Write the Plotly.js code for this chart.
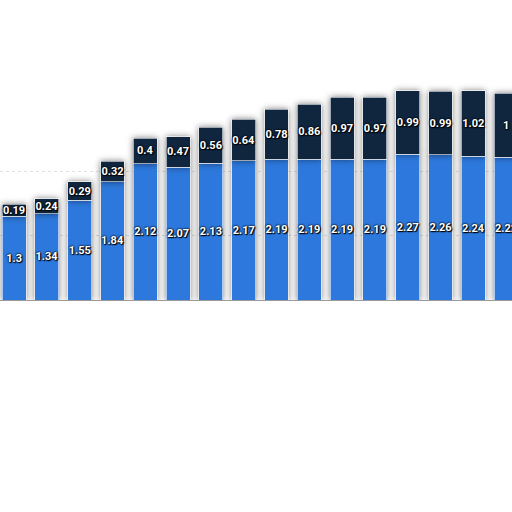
<!DOCTYPE html>
<html>
<head>
<meta charset="utf-8">
<script src="https://cdn.plot.ly/plotly-3.0.1.min.js"></script>
<style>
  body { margin: 0; background: #fff; }
  #chart { width: 512px; height: 512px; }
  .trace.bars .point path { filter: drop-shadow(0 0 3px rgba(0,0,0,0.5)); }
</style>
</head>
<body>
<div id="chart"></div>
<script>
// categories are not shown in the picture, so plain labels are used
var categories = ['1', '2', '3', '4', '5', '6', '7', '8', '9', '10', '11', '12', '13', '14', '15', '16'];
var lowerValues = [1.3, 1.34, 1.55, 1.84, 2.12, 2.07, 2.13, 2.17, 2.19, 2.19, 2.19, 2.19, 2.27, 2.26, 2.24, 2.22];
var upperValues = [0.19, 0.24, 0.29, 0.32, 0.4, 0.47, 0.56, 0.64, 0.78, 0.86, 0.97, 0.97, 0.99, 0.99, 1.02, 1];

var labelFont = {
  family: 'Roboto, sans-serif',
  size: 11,
  weight: 'bold',
  color: '#ffffff',
  shadow: '0 0 2px #000, 0 0 2px #000, 1px 1px 1px #000'
};

var lower = {
  x: categories,
  y: lowerValues,
  type: 'bar',
  marker: { color: '#2d78dc', line: { color: '#ffffff', width: 0.6 } },
  text: lowerValues.map(String),
  textposition: 'inside',
  insidetextanchor: 'middle',
  textangle: 0,
  constraintext: 'none',
  textfont: labelFont,
  hoverinfo: 'none'
};

var upper = {
  x: categories,
  y: upperValues,
  type: 'bar',
  marker: { color: '#10263f', line: { color: '#ffffff', width: 0.6 } },
  text: upperValues.map(String),
  textposition: 'inside',
  insidetextanchor: 'middle',
  textangle: 0,
  constraintext: 'none',
  textfont: labelFont,
  hoverinfo: 'none'
};

var layout = {
  width: 512,
  height: 512,
  barmode: 'stack',
  bargap: 0.27,
  showlegend: false,
  paper_bgcolor: '#ffffff',
  plot_bgcolor: '#ffffff',
  margin: { l: 0, r: 0, t: 0, b: 212 },
  xaxis: {
    type: 'category',
    range: [-0.43, 15.18],
    showticklabels: false,
    ticks: '',
    showgrid: false,
    showline: true,
    linecolor: '#9a9a9a',
    linewidth: 1,
    zeroline: false
  },
  yaxis: {
    range: [0, 4.67],
    tickvals: [1, 2],
    showticklabels: false,
    ticks: '',
    showgrid: true,
    gridcolor: '#e0e0e0',
    griddash: 'dot',
    gridwidth: 1,
    zeroline: false
  }
};

Plotly.newPlot('chart', [lower, upper], layout, { staticPlot: true });
</script>
</body>
</html>
